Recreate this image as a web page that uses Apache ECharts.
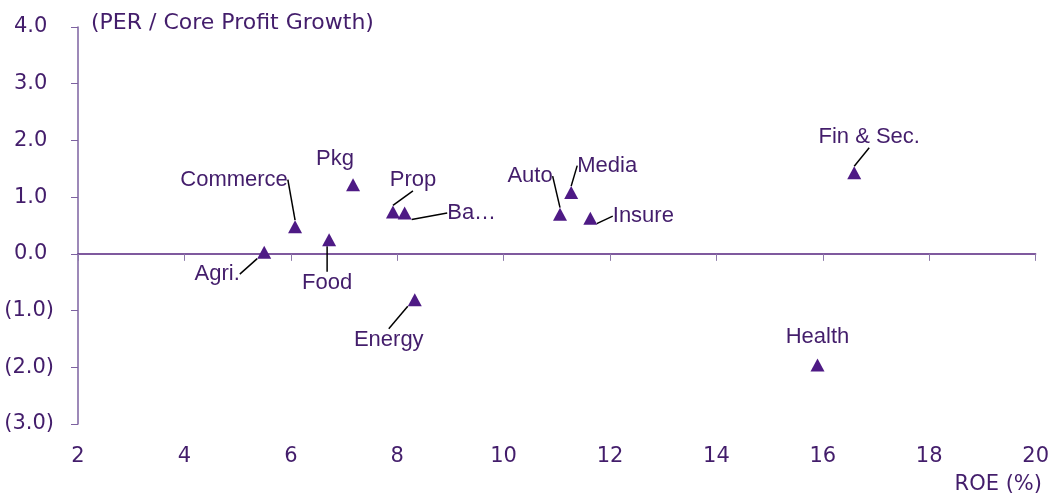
<!DOCTYPE html>
<html>
<head>
<meta charset="utf-8">
<script src="https://cdn.jsdelivr.net/npm/echarts@6/dist/echarts.min.js"></script>
<style>
  html, body { margin: 0; padding: 0; background: #fff; }
  #chart { width: 1052px; height: 496px; }
</style>
</head>
<body>
<div id="chart"></div>
<script>
// sector data
const sectors = ['Agri.', 'Commerce', 'Food', 'Pkg', 'Prop', 'Ba\u2026', 'Energy', 'Auto', 'Media', 'Insure', 'Fin & Sec.', 'Health'];
const roe = [5.5, 6.08, 6.72, 7.17, 7.92, 8.14, 8.33, 11.06, 11.27, 11.63, 16.59, 15.9];
const perGrowth = [0.03, 0.48, 0.25, 1.22, 0.74, 0.72, -0.81, 0.70, 1.08, 0.63, 1.43, -1.96];
const xTicks = [2, 4, 6, 8, 10, 12, 14, 16, 18, 20];

// label offsets from marker (px), and which ones get a leader line
const labelOffsets = [[-47, 22], [-61, -47], [-2, 43], [-18, -26], [20, -32], [67, 0],
    [-26, 40], [-30, -38], [36, -27], [53, -2], [15, -36], [0, -28]];
const noLeader = ['Pkg', 'Health'];

const TEXT = '#431D6B';
const MARK = '#4E1A85';

var myChart = echarts.init(document.getElementById('chart'));

const fmtY = (v) => v < 0 ? `(${Math.abs(v).toFixed(1)})` : v.toFixed(1) + ' ';

var option = {
    animation: false,
    title: [
        {
            text: '(PER / Core Profit Growth)',
            left: 86, top: 7,
            textStyle: { fontFamily: 'DejaVu Sans', fontSize: 22, fontWeight: 'normal', color: TEXT }
        },
        {
            text: 'ROE (%)',
            right: 5, top: 469,
            textStyle: { fontFamily: 'DejaVu Sans', fontSize: 21, fontWeight: 'normal', color: TEXT }
        }
    ],
    grid: { left: 78, right: 14, top: 27, bottom: 72 },
    xAxis: [
        {
            type: 'value', min: 2, max: 20, interval: 2,
            axisLine: { onZero: true, lineStyle: { color: '#55237F', width: 1.5 } },
            axisTick: { show: true, length: 7, lineStyle: { color: '#8C78A8' } },
            axisLabel: { show: false },
            splitLine: { show: false }
        },
        {
            type: 'value', min: 2, max: 20, interval: 2, position: 'bottom',
            axisLine: { show: false, onZero: false },
            axisTick: { show: false },
            axisLabel: {
                margin: 22,
                fontFamily: 'DejaVu Sans', fontSize: 21, color: TEXT,
                customValues: xTicks
            },
            splitLine: { show: false }
        }
    ],
    yAxis: {
        type: 'value', min: -3, max: 4, interval: 1,
        axisLine: { show: true, onZero: false, lineStyle: { color: '#7D62A0', width: 1.5 } },
        axisTick: { show: true, length: 7, lineStyle: { color: '#7D62A0' } },
        axisLabel: {
            margin: 24,
            fontFamily: 'DejaVu Sans', fontSize: 21, color: TEXT,
            formatter: fmtY
        },
        splitLine: { show: false }
    },
    series: [{
        type: 'scatter',
        xAxisIndex: 0,
        symbol: 'triangle',
        symbolSize: [14, 13],
        itemStyle: { color: MARK, opacity: 1 },
        label: {
            show: true,
            position: 'inside',
            formatter: (p) => p.data.name,
            fontFamily: 'Liberation Sans, Arial, sans-serif',
            fontSize: 22,
            color: TEXT
        },
        labelLine: { show: true, lineStyle: { color: '#000', width: 1.5 } },
        labelLayout: (p) => ({ dx: labelOffsets[p.dataIndex][0], dy: labelOffsets[p.dataIndex][1] }),
        data: sectors.map((name, i) => ({
            name,
            value: [roe[i], perGrowth[i]],
            labelLine: { show: !noLeader.includes(name) }
        }))
    }]
};

myChart.setOption(option);
</script>
</body>
</html>
